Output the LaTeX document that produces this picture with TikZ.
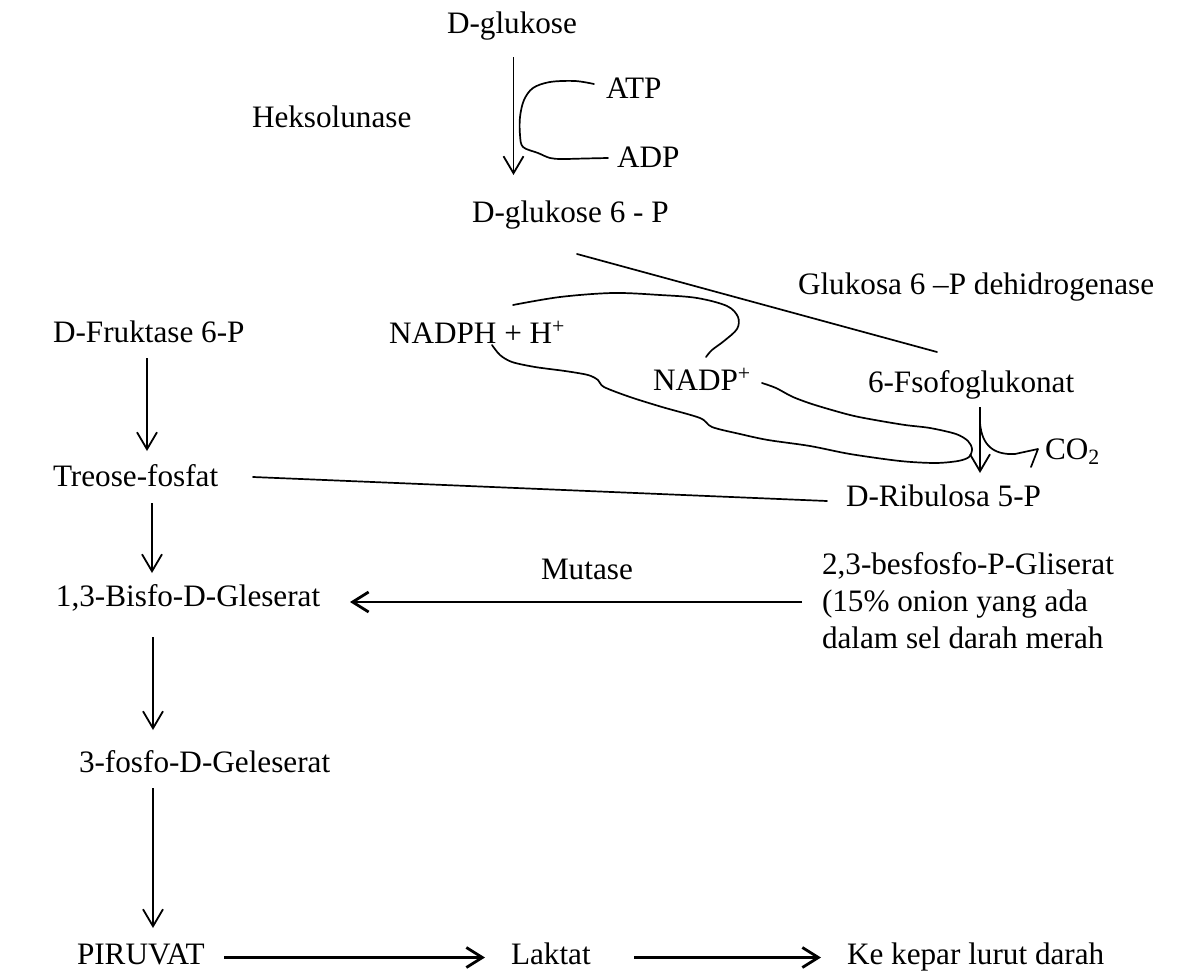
\documentclass[tikz,border=0pt]{standalone}
\usepackage{fontspec}
\setmainfont{Liberation Serif}
\usetikzlibrary{arrows.meta}
\tikzset{
  lbl/.style={anchor=base west, inner sep=0pt, outer sep=0pt, font=\fontsize{31.2pt}{36pt}\selectfont},
  arr/.style={line width=1.8pt, -{Straight Barb[length=17pt,width=20pt]}},
  thickarr/.style={line width=2.8pt, -{Straight Barb[length=16pt,width=20pt]}},
  curve/.style={line width=1.7pt, line cap=round, line join=round},
  plainline/.style={line width=1.7pt, line cap=round}
}
\begin{document}
\begin{tikzpicture}[x=1pt,y=-1pt]
\useasboundingbox (0,0) rectangle (1179,977);
% texts
\node[lbl] (dglc) at (447,33) {D-glukose};
\node[lbl] (atp) at (606,98) {ATP};
\node[lbl] (hek) at (252,127) {Heksolunase};
\node[lbl] (adp) at (617,167) {ADP};
\node[lbl] (g6p) at (472,222) {D-glukose 6 - P};
\node[lbl] (g6pdh) at (798,294) {Glukosa 6 –P dehidrogenase};
\node[lbl] (f6p) at (53,342) {D-Fruktase 6-P};
\node[lbl] (nadph) at (389,343) {NADPH + H\textsuperscript{+}};
\node[lbl] (nadp) at (653,390) {NADP\textsuperscript{+}};
\node[lbl] (pg) at (868,392) {6-Fsofoglukonat};
\node[lbl] (co2) at (1045,459) {CO\textsubscript{2}};
\node[lbl] (treose) at (53,486) {Treose-fosfat};
\node[lbl] (rib) at (846,506) {D-Ribulosa 5-P};
\node[lbl] (mut) at (541,579) {Mutase};
\node[lbl] (bpga) at (822,574) {2,3-besfosfo-P-Gliserat};
\node[lbl] (bpgb) at (822,611) {(15\% onion yang ada};
\node[lbl] (bpgc) at (822,648) {dalam sel darah merah};
\node[lbl] (bis) at (56,606) {1,3-Bisfo-D-Gleserat};
\node[lbl] (pga) at (79,772) {3-fosfo-D-Geleserat};
\node[lbl] (pir) at (77,964) {PIRUVAT};
\node[lbl] (lak) at (511,964) {Laktat};
\node[lbl] (ke) at (847,964) {Ke kepar lurut darah};
% connector end points
\coordinate (glcA) at (513.5,57);   \coordinate (glcB) at (513.5,175);
\coordinate (fA) at (147,358);      \coordinate (fB) at (147,451);
\coordinate (tA) at (152,503);      \coordinate (tB) at (152,573);
\coordinate (bA) at (153,637);      \coordinate (bB) at (153,730);
\coordinate (pA) at (153,788);      \coordinate (pB) at (153,928);
\coordinate (pgA) at (980,407);     \coordinate (pgB) at (980,473);
\coordinate (mA) at (802,602);      \coordinate (mB) at (350,602);
\coordinate (l1A) at (224,957.5);   \coordinate (l1B) at (485,957.5);
\coordinate (l2A) at (634,957.5);   \coordinate (l2B) at (821,957.5);
\coordinate (gA) at (577,254);      \coordinate (gB) at (937,352);
\coordinate (trA) at (253,477);     \coordinate (trB) at (827,501);
% arrows
\draw[arr] (glcA) -- (glcB);
\draw[arr] (fA) -- (fB);
\draw[arr] (tA) -- (tB);
\draw[arr] (bA) -- (bB);
\draw[arr] (pA) -- (pB);
\draw[arr] (pgA) -- (pgB);
\draw[thickarr] (mA) -- (mB);
\draw[thickarr] (l1A) -- (l1B);
\draw[thickarr] (l2A) -- (l2B);
% straight lines
\draw[plainline] (gA) -- (gB);
\draw[plainline] (trA) -- (trB);
% ATP / ADP curve
\draw[curve] plot[smooth, tension=0.55] coordinates {(594,84) (575,81) (550,82) (533,88) (524,100) (520,117) (520,135) (523,147) (538,153) (550,158) (562,159) (585,158.5) (608,158)};
% NADPH / NADP+ upper curve
\draw[curve] plot[smooth, tension=0.55] coordinates {(513,305) (560,297) (613,293) (660,295) (697,298) (727,306) (738,317) (737,329) (724,341) (712,350) (706,357)};
% lower loop
\draw[curve] plot[smooth, tension=0.5] coordinates {(492,345) (500,355) (512,362) (535,367) (565,371) (588,375) (598,380) (604,387) (630,397) (662,407) (700,418) (712,427) (740,434) (768,440) (810,446) (850,454) (900,461) (935,463) (958,461) (969,457) (972,449) (968,441) (956,434) (930,428) (905,425) (875,420) (850,415) (815,405) (793,397) (776,388) (762,383)};
% CO2 branch
\draw[curve] (980,423) .. controls (982,446) and (994,455) .. (1015,454) -- (1038,449) -- (1031,467);
\end{tikzpicture}
\end{document}
